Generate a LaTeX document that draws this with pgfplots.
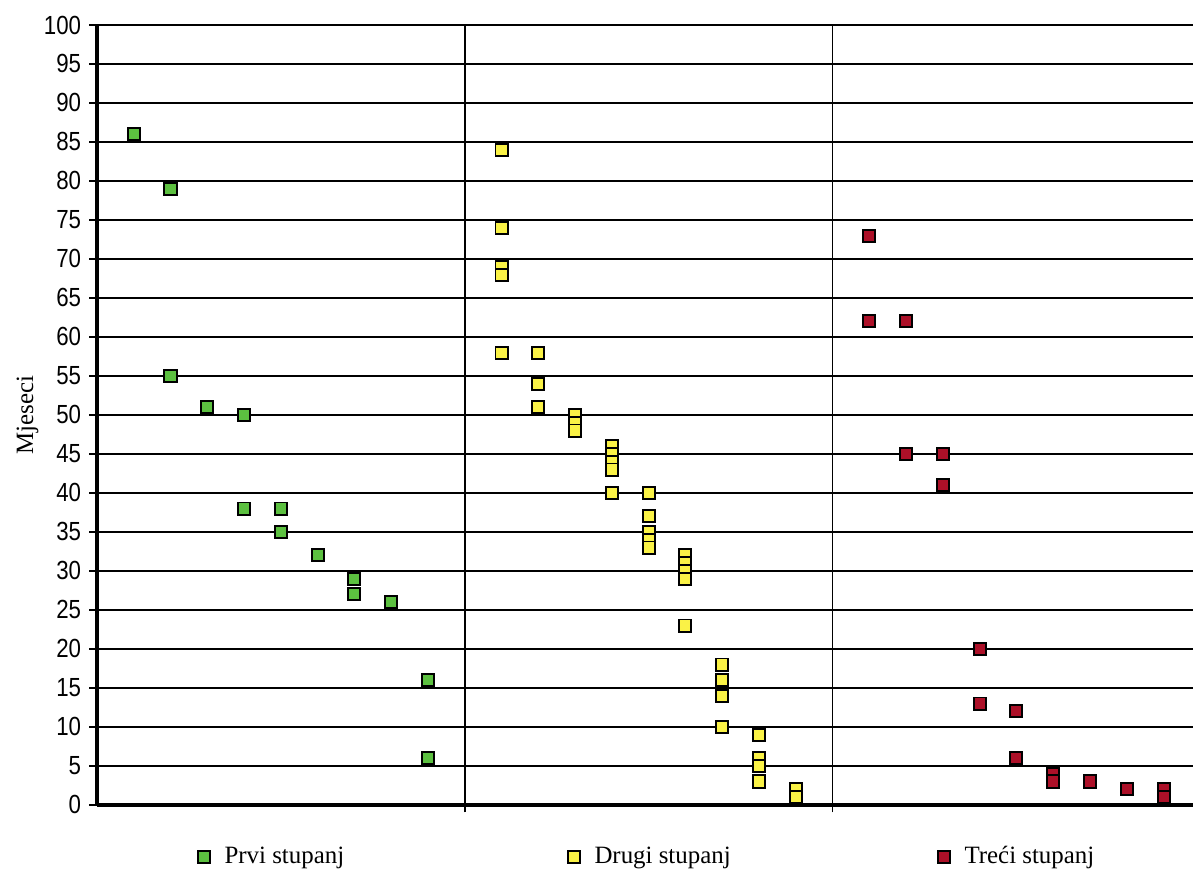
\documentclass[border=0pt]{standalone}
\usepackage{fontspec}
\setmainfont{Liberation Serif}
\newfontfamily\tickfont[FakeStretch=0.85]{Liberation Sans}
\usepackage{pgfplots}
\pgfplotsset{compat=1.18}
\definecolor{prvi}{RGB}{92,192,64}
\definecolor{drugi}{RGB}{250,242,70}
\definecolor{treci}{RGB}{172,16,40}
\begin{document}
\begin{tikzpicture}
\begin{axis}[
  scale only axis, width=14.70cm, height=10.46cm,
  xmin=0, xmax=2.98, ymin=0, ymax=100,
  axis x line=bottom, axis y line=left,
  axis line style={line width=1.6pt,-},
  xtick={1,2}, xticklabels={},
  ytick={0,5,...,100},
  xmajorgrids, ymajorgrids,
  grid style={black, line width=0.7pt},
  tick align=outside, major tick length=0.1cm,
  tick style={black, line width=0.6pt},
  /pgf/number format/assume math mode=true,
  yticklabel style={font=\tickfont\fontsize{10}{11}\selectfont, inner xsep=3pt},
  ylabel={Mjeseci},
  every axis y label/.style={at={(rel axis cs:0,0.5)}, rotate=90, anchor=center,
    yshift=0.93cm, font=\fontsize{9.5}{11}\selectfont},
  clip=false,
  only marks,
  legend columns=3,
  legend style={draw=none, inner sep=0pt, at={(0.092,-0.067)}, anchor=west,
    font=\fontsize{9.5}{11}\selectfont,
    /tikz/every even column/.append style={column sep=1.66cm}},
]
\addplot[mark=square*, mark size=2.3pt, mark options={fill=prvi, draw=black, line width=0.75pt}]
  coordinates {
  (0.1,86) (0.2,79) (0.2,55) (0.3,51) (0.4,50) (0.4,38) (0.5,38) (0.5,35)
  (0.6,32) (0.7,29) (0.7,27) (0.8,26) (0.9,16) (0.9,6)
};
\addlegendentry{\makebox[3.0cm][l]{\hspace{0.12cm}Prvi stupanj}}
\addplot[mark=square*, mark size=2.3pt, mark options={fill=drugi, draw=black, line width=0.75pt}]
  coordinates {
  (1.1,84) (1.1,74) (1.1,69) (1.1,68) (1.1,58)
  (1.2,58) (1.2,54) (1.2,51)
  (1.3,50) (1.3,49) (1.3,48)
  (1.4,46) (1.4,45) (1.4,44) (1.4,43) (1.4,40)
  (1.5,40) (1.5,37) (1.5,35) (1.5,34) (1.5,33)
  (1.6,32) (1.6,31) (1.6,30) (1.6,29) (1.6,23)
  (1.7,18) (1.7,16) (1.7,14) (1.7,10)
  (1.8,9) (1.8,6) (1.8,5) (1.8,3)
  (1.9,2) (1.9,1)
};
\addlegendentry{\makebox[3.0cm][l]{\hspace{0.12cm}Drugi stupanj}}
\addplot[mark=square*, mark size=2.3pt, mark options={fill=treci, draw=black, line width=0.75pt}]
  coordinates {
  (2.1,73) (2.1,62) (2.2,62) (2.2,45) (2.3,45) (2.3,41)
  (2.4,20) (2.4,13) (2.5,12) (2.5,6) (2.6,4) (2.6,3)
  (2.7,3) (2.8,2) (2.9,2) (2.9,1)
};
\addlegendentry{\makebox[3.0cm][l]{\hspace{0.12cm}Treći stupanj}}
\coordinate (sw) at (rel axis cs:0,0);
\coordinate (ne) at (rel axis cs:1,1);
\end{axis}
\pgfresetboundingbox
\path ([xshift=-1.30cm, yshift=-0.885cm]sw) rectangle ([yshift=0.335cm]ne);
\end{tikzpicture}
\end{document}
